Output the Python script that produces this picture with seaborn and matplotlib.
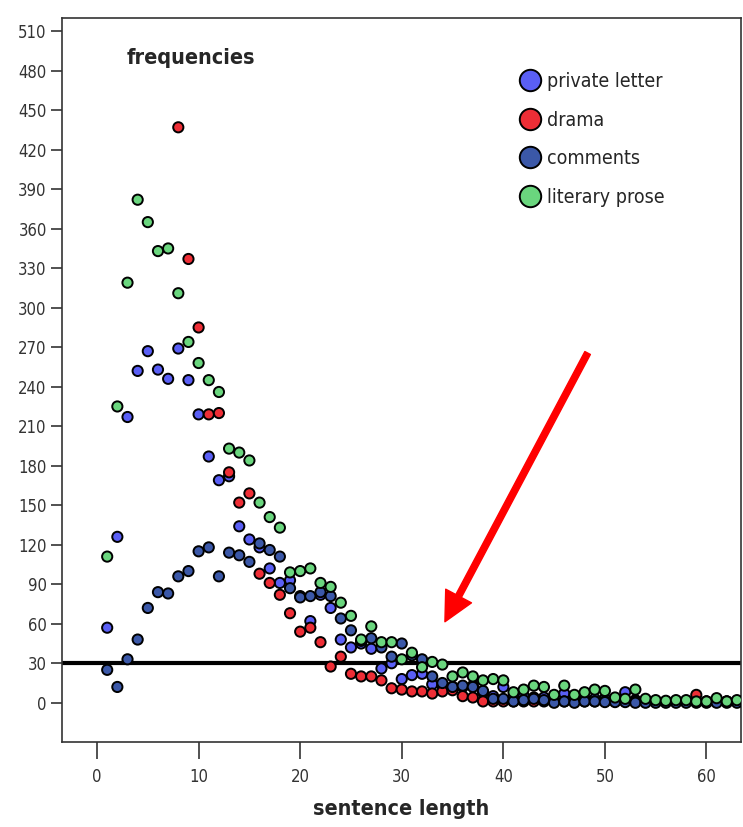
import numpy as np
import pandas as pd
import matplotlib
matplotlib.use("Agg")
import matplotlib.pyplot as plt
from matplotlib import font_manager as fm
import seaborn as sns

# ---- data ----
sentence_length = list(range(1, 64))
private_letter = [57, 126, 217, 252, 267, 253, 246, 269, 245, 219,
                  187, 169, 172, 134, 124, 118, 102, 91, 93, 81,
                  62, 82, 72, 48, 42, 45, 41, 26, 30, 18,
                  21, 22, 14, 13, 12, 12, 13, 8, 5, 12,
                  4, 5, 4, 4, 2, 7, 2, 3, 3, 3,
                  2, 8, 2, 2, 1, 1, 1, 1, 1, 1,
                  2, 1, 1]
drama = [None, None, None, None, None, None, None, 437, 337, 285,
         219, 220, 175, 152, 159, 98, 91, 82, 68, 54,
         57, 46, 27.5, 35, 22, 20, 20, 17, 11, 10,
         8.6, 8.6, 7, 8.6, 9.5, 5, 4, 1, 1, 1,
         1, 1, 1, 1, 1, 1, 1, 1, 1, 1,
         1, 1, 1, 1, 1, 1, 1, 1, 6, 1,
         1, 1, 1]
comments = [25, 12, 33, 48, 72, 84, 83, 96, 100, 115,
            118, 96, 114, 112, 107, 121, 116, 111, 87, 80,
            81, 84, 81, 64, 55, 47, 49, 42, 35, 45,
            36, 33, 20, 15, 12, 13, 12, 9, 3, 3,
            1, 2, 3, 2, 0, 1, 0, 1, 1, 0.5,
            0.5, 0.5, 0, 0, 0, 0, 0, 0, 0, 0,
            0, 0, 0]
literary_prose = [111, 225, 319, 382, 365, 343, 345, 311, 274, 258,
                  245, 236, 193, 190, 184, 152, 141, 133, 99, 100,
                  102, 91, 88, 76, 66, 48, 58, 46, 46, 33,
                  38, 27, 31, 29, 20, 23, 20, 17, 18, 17,
                  8, 10, 13, 12, 6, 13, 6, 8, 10, 9,
                  4, 3, 10, 3, 2, 1.5, 2, 2, 1, 1,
                  3.5, 1, 2]
series_names = ["private letter", "drama", "comments", "literary prose"]
series_colors = ["#5a5ff5", "#ee2e36", "#3b58a8", "#6ad67e"]
threshold = 30
x_ticks = [0, 10, 20, 30, 40, 50, 60]
y_ticks = list(range(0, 511, 30))

frames = []
for name, vals in zip(series_names, [private_letter, drama, comments, literary_prose]):
    frames.append(pd.DataFrame({"sentence length": sentence_length,
                                "frequency": vals, "genre": name}))
df = pd.concat(frames, ignore_index=True).dropna()

# ---- figure ----
sns.set_style("ticks")
plt.rcParams["font.family"] = ["DejaVu Sans"]
plt.rcParams["font.stretch"] = "condensed"

def fp(size, weight="normal"):
    return fm.FontProperties(family="DejaVu Sans", stretch="condensed", size=size, weight=weight)

fig = plt.figure(figsize=(7.43, 8.27), dpi=100)
ax = fig.add_axes([62 / 743, 1 - 742 / 827, (741 - 62) / 743, (742 - 18) / 827])

sns.scatterplot(data=df, x="sentence length", y="frequency", hue="genre",
                hue_order=series_names, palette=dict(zip(series_names, series_colors)),
                s=54, edgecolor="black", linewidth=1.4, ax=ax, zorder=3)

ax.axhline(threshold, color="black", lw=3, zorder=2)

ax.set_xlim(-3.45, 63.4)
ax.set_ylim(-29.8, 520)
ax.set_xticks(x_ticks)
ax.set_yticks(y_ticks)
ax.tick_params(axis="x", length=12, width=1.2, pad=7, colors="#333333")
ax.tick_params(axis="y", length=8, width=1.2, pad=3, colors="#333333")
for lab in ax.get_xticklabels() + ax.get_yticklabels():
    lab.set_fontproperties(fp(12))
for sp in ax.spines.values():
    sp.set_visible(True)
    sp.set_color("#333333")
    sp.set_linewidth(1.2)

ax.set_xlabel("sentence length", fontproperties=fp(15.5, "bold"), labelpad=9)
ax.set_ylabel("")

ax.text(0.0957, 0.945, "frequencies", transform=ax.transAxes,
        fontproperties=fp(15.5, "bold"), ha="left", va="center")

# arrow
ax.annotate("", xy=(34.25, 61.5), xytext=(48.3, 265.6),
            arrowprops=dict(color="#ff0000", width=4.5, headwidth=21, headlength=21, shrink=0),
            zorder=4)

handles, labels = ax.get_legend_handles_labels()
ax.legend(handles, labels, loc="upper left", bbox_to_anchor=(0.675, 0.925),
          frameon=False, prop=fp(14), markerscale=2.1, handlelength=1.0,
          handletextpad=0.35, labelspacing=1.0, borderpad=0, borderaxespad=0)

fig.savefig("out.png", dpi=100)
